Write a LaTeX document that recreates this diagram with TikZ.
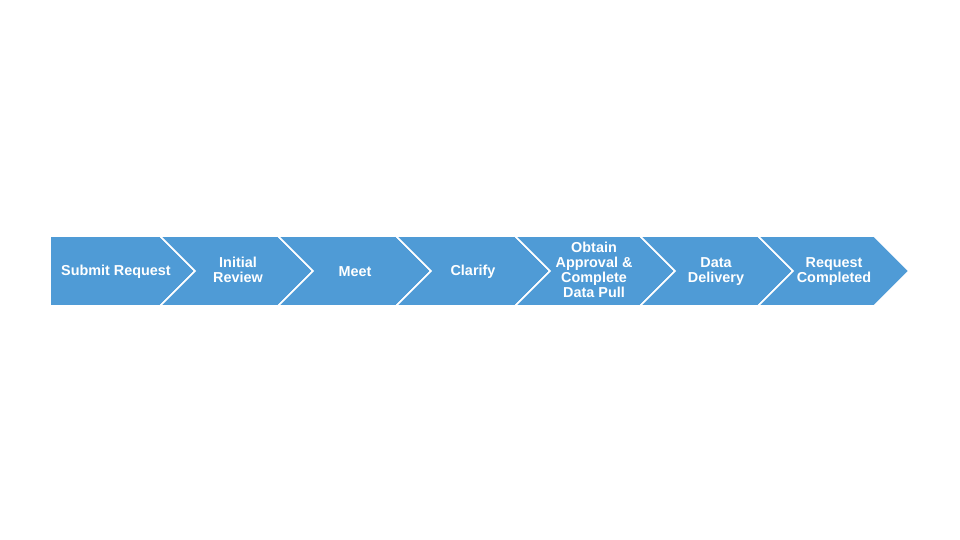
\documentclass[tikz,border=0pt]{standalone}
\usepackage{fontspec}
\setmainfont{Liberation Sans}
\usepackage{tikz}
\definecolor{stepblue}{RGB}{79,155,214}

\begin{document}
\begin{tikzpicture}[x=1pt,y=-1pt,
    chevron/.style={fill=stepblue, draw=white, line width=1.6pt, line join=miter},
    steptext/.style={text=white, font=\fontsize{14.4}{15}\selectfont\bfseries, align=center, inner sep=0pt}]

        \useasboundingbox (0,0) rectangle (960,540);

        %first step
        \draw[chevron] (50,236) -- (160,236) -- (195,271) -- (160,306) -- (50,306) -- cycle;
        %chevrons
        \foreach \xl/\xr in {160/278,278/396,396/515,515/640,640/758,758/874}{
            \draw[chevron] (\xl,236) -- (\xr,236) -- (\xr+35,271) -- (\xr,306)
            -- (\xl,306) -- (\xl+35,271) -- cycle;
        }

        %labels
        \node[steptext] (submit) at (116,271.5) {Submit Request};
        \node[steptext] (review) at (238,270) {Initial\\Review};
        \node[steptext] (meet) at (355,271.5) {Meet};
        \node[steptext] (clarify) at (473,271.5) {Clarify};
        \node[steptext] (pull) at (594,270) {Obtain\\Approval \&\\Complete\\Data Pull};
        \node[steptext] (delivery) at (716,271.5) {Data\\Delivery};
        \node[steptext] (done) at (834,271.5) {Request\\Completed};

    \end{tikzpicture}
\end{document}
